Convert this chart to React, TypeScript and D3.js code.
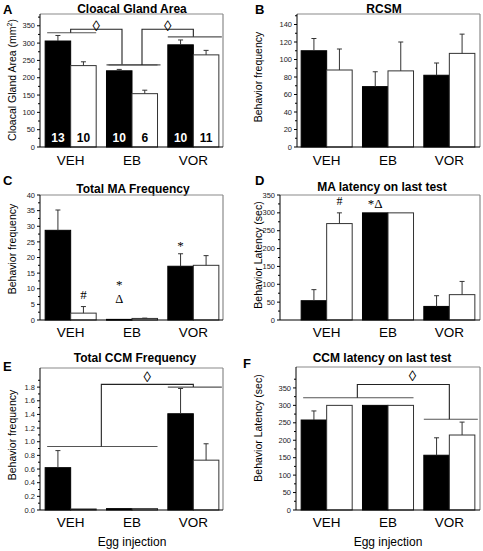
import React from 'react';
import * as d3 from 'd3';

const FONT = 'Liberation Sans, Arial, Helvetica, sans-serif';
const SERIF = 'Liberation Serif, Times New Roman, serif';

const groups = ['VEH', 'EB', 'VOR'];
const series = ['black', 'white'];

// A: Cloacal Gland Area
const areaBlack = [306, 220, 295];
const areaBlackErr = [16, 4, 14];
const areaWhite = [235, 154, 266];
const areaWhiteErr = [11, 10, 13];
const areaNBlack = [13, 10, 10];
const areaNWhite = [10, 6, 11];
const areaTicks = [0, 50, 100, 150, 200, 250, 300, 350];

// B: RCSM
const rcsmBlack = [110, 69, 82];
const rcsmBlackErr = [14, 17, 14];
const rcsmWhite = [88, 87, 107];
const rcsmWhiteErr = [24, 33, 22];
const rcsmTicks = [0, 20, 40, 60, 80, 100, 120, 140];

// C: Total MA Frequency
const maBlack = [28.7, 0.2, 17.2];
const maBlackErr = [6.5, 0, 4.0];
const maWhite = [2.2, 0.5, 17.5];
const maWhiteErr = [2.1, 0.1, 3.1];
const maTicks = [0, 5, 10, 15, 20, 25, 30, 35, 40];

// D: MA latency on last test
const maLatBlack = [54, 300, 38];
const maLatBlackErr = [31, 0, 30];
const maLatWhite = [270, 300, 71];
const maLatWhiteErr = [30, 0, 37];
const latTicks = [0, 50, 100, 150, 200, 250, 300, 350];

// E: Total CCM Frequency
const ccmBlack = [0.62, 0.02, 1.41];
const ccmBlackErr = [0.25, 0, 0.37];
const ccmWhite = [0.015, 0.02, 0.73];
const ccmWhiteErr = [0, 0, 0.24];
const ccmTicks = [0, 0.2, 0.4, 0.6, 0.8, 1.0, 1.2, 1.4, 1.6, 1.8];

// F: CCM latency on last test
const ccmLatBlack = [258, 300, 157];
const ccmLatBlackErr = [26, 0, 50];
const ccmLatWhite = [300, 300, 215];
const ccmLatWhiteErr = [0, 0, 37];

// annotation marks (value = baseline level)
const maMarks = [
  { group: 'VEH', s: 'white', text: '#', value: 6.7, size: 13 },
  { group: 'EB', s: 'black', text: '*', value: 9.8, size: 13 },
  { group: 'EB', s: 'black', text: 'Δ', value: 5.4, size: 12.5 },
  { group: 'VOR', s: 'black', text: '*', value: 22.4, size: 13 },
];
const maLatMarks = [
  { group: 'VEH', s: 'white', text: '#', value: 322, size: 12 },
  { group: 'EB', s: 'black', text: '*Δ', value: 314, size: 13 },
];

// significance brackets
const areaBrackets = [
  { left: ['VEH'], leftValue: 330, leftOff: 0, right: ['EB'], rightValue: 237, rightOff: -10, top: 340, diamond: 352, dPos: 0.5 },
  { left: ['EB'], leftValue: 237, leftOff: 10, right: ['VOR'], rightValue: 318, rightOff: 0, top: 340, diamond: 352, dPos: 0.5 },
];
const ccmBrackets = [
  { left: ['VEH', 'EB'], leftValue: 0.93, leftOff: 0, right: ['VOR'], rightValue: 1.8, rightOff: 0, top: 1.84, diamond: 1.95, dPos: 0.5 },
];
const ccmLatBrackets = [
  { left: ['VEH', 'EB'], leftValue: 322, leftOff: 0, right: ['VOR'], rightValue: 260, rightOff: 0, top: 360, diamond: 387, dPos: 0.6 },
];

const LEFT_BAND: [number, number] = [40, 224];
const RIGHT_BAND: [number, number] = [296, 480];

const panels = [
  {
    letter: 'A', letterX: 3, letterY: 14, title: 'Cloacal Gland Area', titleX: 132, titleY: 13,
    axisX: 40, right: 223, band: LEFT_BAND, top: 14, bottom: 147, max: 384,
    ticks: areaTicks, fmt: (v: number) => String(v), ylabel: 'area', ylabelX: 16, ylabelY: 80, catY: 164.5,
    black: areaBlack, blackErr: areaBlackErr, white: areaWhite, whiteErr: areaWhiteErr,
    nBlack: areaNBlack, nWhite: areaNWhite, marks: [], brackets: areaBrackets,
  },
  {
    letter: 'B', letterX: 255, letterY: 14, title: 'RCSM', titleX: 384, titleY: 13,
    axisX: 297, right: 480, band: RIGHT_BAND, top: 14, bottom: 147, max: 152,
    ticks: rcsmTicks, fmt: (v: number) => String(v), ylabel: 'Behavior frequency', ylabelX: 262, ylabelY: 77, catY: 164.5,
    black: rcsmBlack, blackErr: rcsmBlackErr, white: rcsmWhite, whiteErr: rcsmWhiteErr,
    marks: [], brackets: [],
  },
  {
    letter: 'C', letterX: 3, letterY: 185, title: 'Total MA Frequency', titleX: 133, titleY: 193,
    axisX: 40, right: 223, band: LEFT_BAND, top: 195, bottom: 320, max: 40,
    ticks: maTicks, fmt: (v: number) => String(v), ylabel: 'Behavior frequency', ylabelX: 16, ylabelY: 249, catY: 337,
    black: maBlack, blackErr: maBlackErr, white: maWhite, whiteErr: maWhiteErr,
    marks: maMarks, brackets: [],
  },
  {
    letter: 'D', letterX: 255, letterY: 185, title: 'MA latency on last test', titleX: 382, titleY: 191,
    axisX: 280, right: 480, band: RIGHT_BAND, top: 195, bottom: 320, max: 350,
    ticks: latTicks, fmt: (v: number) => String(v), ylabel: 'Behavior Latency (sec)', ylabelX: 262, ylabelY: 255, catY: 337,
    black: maLatBlack, blackErr: maLatBlackErr, white: maLatWhite, whiteErr: maLatWhiteErr,
    marks: maLatMarks, brackets: [],
  },
  {
    letter: 'E', letterX: 3, letterY: 371, title: 'Total CCM Frequency', titleX: 135, titleY: 362,
    axisX: 40, right: 223, band: LEFT_BAND, top: 368, bottom: 510, max: 2.08,
    ticks: ccmTicks, fmt: (v: number) => v.toFixed(1), ylabel: 'Behavior frequency', ylabelX: 16, ylabelY: 435, catY: 527,
    black: ccmBlack, blackErr: ccmBlackErr, white: ccmWhite, whiteErr: ccmWhiteErr,
    marks: [], brackets: ccmBrackets, xlabel: 'Egg injection', xlabelY: 546,
  },
  {
    letter: 'F', letterX: 243, letterY: 368, title: 'CCM latency on last test', titleX: 382, titleY: 362,
    axisX: 296, right: 480, band: RIGHT_BAND, top: 367, bottom: 510, max: 410,
    ticks: latTicks, fmt: (v: number) => String(v), ylabel: 'Behavior Latency (sec)', ylabelX: 262, ylabelY: 428, catY: 527,
    black: ccmLatBlack, blackErr: ccmLatBlackErr, white: ccmLatWhite, whiteErr: ccmLatWhiteErr,
    marks: [], brackets: ccmLatBrackets, xlabel: 'Egg injection', xlabelY: 546,
  },
];

function Panel({ c }: { c: any }) {
  const x = d3.scaleBand<string>().domain(groups).range(c.band).paddingInner(0.168).paddingOuter(0.084);
  const xi = d3.scaleBand<string>().domain(series).range([0, x.bandwidth()]);
  const y = d3.scaleLinear().domain([0, c.max]).range([c.bottom, c.top]);
  const bw = xi.bandwidth();
  const step = c.ticks[1] - c.ticks[0];
  const minor = c.ticks.slice(0, -1).map((t: number) => t + step / 2).concat(
    c.ticks[c.ticks.length - 1] + step / 2 <= c.max ? [c.ticks[c.ticks.length - 1] + step / 2] : []
  );
  const vals: Record<string, number[]> = { black: c.black, white: c.white };
  const errs: Record<string, number[]> = { black: c.blackErr, white: c.whiteErr };
  const center = (g: string, s: string) => (x(g) as number) + (xi(s) as number) + bw / 2;
  const gx0 = (gs: string[]) => x(gs[0]) as number;
  const gx1 = (gs: string[]) => (x(gs[gs.length - 1]) as number) + x.bandwidth();

  return (
    <g fontFamily={FONT}>
      <text x={c.letterX} y={c.letterY} fontSize={13} fontWeight="bold">{c.letter}</text>
      <text x={c.titleX} y={c.titleY} fontSize={12} fontWeight="bold" textAnchor="middle">{c.title}</text>
      {/* frame */}
      <line x1={c.axisX} x2={c.right} y1={c.top} y2={c.top} stroke="#8a8a8a" strokeWidth={1.2} />
      <line x1={c.right} x2={c.right} y1={c.top} y2={c.bottom} stroke="#8a8a8a" strokeWidth={1.2} />
      {/* bars */}
      {groups.map((g, gi) =>
        series.map((s) => {
          const v = vals[s][gi];
          const bx = (x(g) as number) + (xi(s) as number);
          return (
            <rect key={g + s} x={bx} y={y(v)} width={bw} height={Math.max(0.8, y(0) - y(v))}
              fill={s === 'black' ? '#000' : '#fff'} stroke={s === 'black' ? '#000' : '#333'} strokeWidth={1} />
          );
        })
      )}
      {/* error bars */}
      {groups.map((g, gi) =>
        series.map((s) => {
          const v = vals[s][gi];
          const e = errs[s][gi];
          if (!e) return null;
          const cx = center(g, s);
          return (
            <g key={'e' + g + s} stroke="#333" strokeWidth={1}>
              <line x1={cx} x2={cx} y1={y(v)} y2={y(v + e)} />
              <line x1={cx - 2.5} x2={cx + 2.5} y1={y(v + e)} y2={y(v + e)} />
            </g>
          );
        })
      )}
      {/* n labels */}
      {c.nBlack && groups.map((g, gi) => (
        <g key={'n' + g}>
          <text x={center(g, 'black')} y={c.bottom - 5} fontSize={12} fontWeight="bold" fill="#fff" textAnchor="middle">{c.nBlack[gi]}</text>
          <text x={center(g, 'white')} y={c.bottom - 5} fontSize={12} fontWeight="bold" fill="#000" textAnchor="middle">{c.nWhite[gi]}</text>
        </g>
      ))}
      {/* axes */}
      <line x1={c.axisX} x2={c.axisX} y1={c.top} y2={c.bottom} stroke="#000" strokeWidth={1} />
      <line x1={c.axisX} x2={c.right} y1={c.bottom} y2={c.bottom} stroke="#000" strokeWidth={1} />
      {c.ticks.map((t: number) => (
        <g key={'t' + t}>
          <line x1={c.axisX - 3} x2={c.axisX} y1={y(t)} y2={y(t)} stroke="#000" />
          <text x={c.axisX - 5} y={y(t)} dy="0.35em" fontSize={7.5} textAnchor="end" fill="#222">{c.fmt(t)}</text>
        </g>
      ))}
      {minor.map((t: number) => (
        <line key={'m' + t} x1={c.axisX - 2} x2={c.axisX} y1={y(t)} y2={y(t)} stroke="#000" />
      ))}
      {groups.map((g) => (
        <text key={'c' + g} x={(x(g) as number) + x.bandwidth() / 2} y={c.catY} fontSize={13.5} textAnchor="middle">{g}</text>
      ))}
      {c.xlabel && (
        <text x={(c.band[0] + c.band[1]) / 2} y={c.xlabelY} fontSize={12} textAnchor="middle">{c.xlabel}</text>
      )}
      {/* y label */}
      <g transform={`translate(${c.ylabelX},${c.ylabelY}) rotate(-90)`}>
        {c.ylabel === 'area' ? (
          <text fontSize={10.5} textAnchor="middle">
            Cloacal Gland Area (mm<tspan dy={-4} fontSize={7}>2</tspan><tspan dy={4}>)</tspan>
          </text>
        ) : (
          <text fontSize={10.5} textAnchor="middle">{c.ylabel}</text>
        )}
      </g>
      {/* marks */}
      {c.marks.map((m: any, i: number) => (
        <text key={'mk' + i} x={center(m.group, m.s)} y={y(m.value)} fontFamily={SERIF} fontSize={m.size} textAnchor="middle">{m.text}</text>
      ))}
      {/* brackets */}
      {c.brackets.map((b: any, i: number) => {
        const lx0 = gx0(b.left), lx1 = gx1(b.left);
        const rx0 = gx0(b.right), rx1 = Math.min(gx1(b.right) + 3, c.right - 1);
        const la = (lx0 + lx1) / 2 + b.leftOff;
        const ra = (gx0(b.right) + gx1(b.right)) / 2 + b.rightOff;
        const dx = la + (ra - la) * b.dPos;
        return (
          <g key={'b' + i} fill="none" strokeWidth={1.1}>
            <line x1={lx0 + 2} x2={lx1} y1={y(b.leftValue)} y2={y(b.leftValue)} stroke="#555" />
            <line x1={rx0} x2={rx1} y1={y(b.rightValue)} y2={y(b.rightValue)} stroke="#555" />
            <polyline points={`${la},${y(b.leftValue)} ${la},${y(b.top)} ${ra},${y(b.top)} ${ra},${y(b.rightValue)}`} stroke="#222" />
            <text x={dx} y={y(b.diamond)} dominantBaseline="central" fontSize={15} textAnchor="middle" fill="#000" stroke="none">◊</text>
          </g>
        );
      })}
    </g>
  );
}

export default function App() {
  return (
    <div style={{ position: 'absolute', left: 0, top: 0 }}>
      <svg width={483} height={551} style={{ display: 'block', background: '#fff' }}>
        <rect width={483} height={551} fill="#fff" />
        {panels.map((p) => (
          <Panel key={p.letter} c={p} />
        ))}
      </svg>
    </div>
  );
}
